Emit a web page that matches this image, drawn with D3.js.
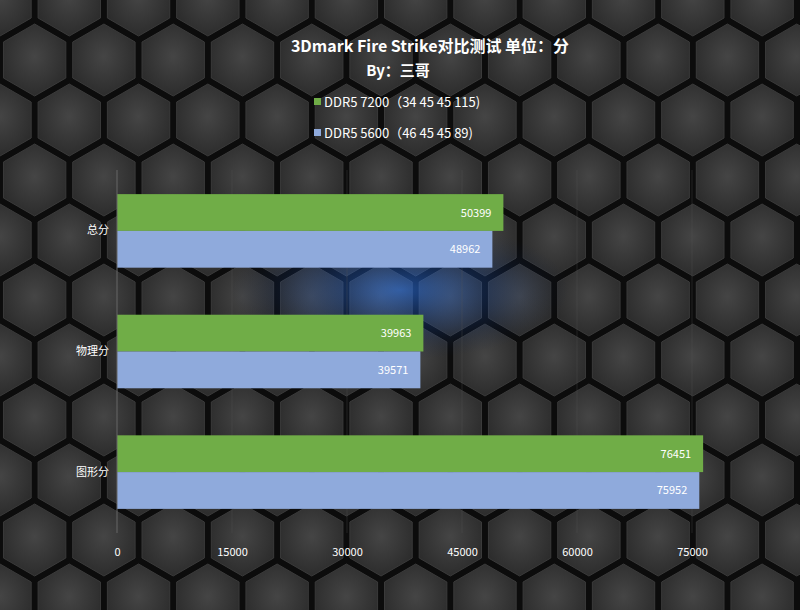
<!DOCTYPE html><html><head><meta charset="utf-8"><script src="https://cdn.jsdelivr.net/npm/d3@7"></script>
<style>body{margin:0;background:#222}svg{display:block}text{font-family:"Noto Sans CJK SC","Noto Sans",sans-serif}</style></head><body>
<svg id="c" width="800" height="610"></svg>
<script>
const categories=["总分","物理分","图形分"];
const seriesNames=["DDR5 7200（34 45 45 115)","DDR5 5600（46 45 45 89)"];
const ddr7200=[50399,39963,76451];
const ddr5600=[48962,39571,75952];
const xTicks=[0,15000,30000,45000,60000,75000];
const colors=["#70ad47","#8faadc"];
const svg=d3.select("#c");
const defs=svg.append("defs");
const rg=defs.append("radialGradient").attr("id","bg").attr("cx","50%").attr("cy","45%").attr("r","70%");
rg.append("stop").attr("offset","0%").attr("stop-color","#454545");
rg.append("stop").attr("offset","100%").attr("stop-color","#262626");
const gl=defs.append("radialGradient").attr("id","glow");
gl.append("stop").attr("offset","0%").attr("stop-color","#2f7fff").attr("stop-opacity",0.9);
gl.append("stop").attr("offset","60%").attr("stop-color","#1a4fb0").attr("stop-opacity",0.35);
gl.append("stop").attr("offset","100%").attr("stop-color","#0a2050").attr("stop-opacity",0);
svg.append("rect").attr("width",800).attr("height",610).attr("fill","#0c0c0c");
const R=40,hw=R*Math.sqrt(3)/2;
const hexes=[];
for(let r=-1;r<12;r++)for(let c=-1;c<12;c++){hexes.push([c*2*hw+(r%2?hw:0),r*1.5*R]);}
const hp=d3.range(6).map(i=>{const a=Math.PI/3*i+Math.PI/6;return [R*Math.cos(a)*0.9,R*Math.sin(a)*0.9];});
svg.append("g").selectAll("path").data(hexes).join("path")
 .attr("d",d=>"M"+hp.map(p=>[p[0]+d[0],p[1]+d[1]]).join("L")+"Z")
 .attr("fill","url(#bg)").attr("stroke","#3a3a3a").attr("stroke-width",1);
svg.append("ellipse").attr("cx",400).attr("cy",290).attr("rx",170).attr("ry",70).attr("fill","url(#glow)").attr("opacity",0.6);
svg.append("text").attr("x",430).attr("y",52).attr("text-anchor","middle").attr("fill","#fff").attr("font-size",16).attr("font-weight","bold").text("3Dmark Fire Strike对比测试 单位：分");
svg.append("text").attr("x",398).attr("y",76).attr("text-anchor","middle").attr("fill","#fff").attr("font-size",15).attr("font-weight","bold").text("By：三哥");
seriesNames.forEach((s,i)=>{const y=103+i*31;
 svg.append("rect").attr("x",314).attr("y",y-5).attr("width",7).attr("height",7).attr("fill",colors[i]);
 svg.append("text").attr("x",324).attr("y",y+4).attr("fill","#fff").attr("font-size",13).text(s);});
const x=d3.scaleLinear().domain([0,75000]).range([117,692]);
const y=d3.scaleBand().domain(categories).range([170,533]).paddingInner(0.39).paddingOuter(0.2);
const y2=d3.scaleBand().domain([0,1]).range([0,y.bandwidth()]);
svg.append("g").selectAll("line").data(xTicks.slice(1)).join("line")
 .attr("x1",d=>x(d)).attr("x2",d=>x(d)).attr("y1",170).attr("y2",533).attr("stroke","#555").attr("stroke-opacity",0.3);
const series=[ddr7200,ddr5600];
series.forEach((vals,si)=>{
 const g=svg.append("g");
 g.selectAll("rect").data(vals).join("rect").attr("x",x(0)).attr("y",(d,i)=>y(categories[i])+y2(si)).attr("width",d=>x(d)-x(0)).attr("height",y2.bandwidth()).attr("fill",colors[si]);
 g.selectAll("text").data(vals).join("text").attr("x",d=>x(d)-12).attr("y",(d,i)=>y(categories[i])+y2(si)+y2.bandwidth()/2+4).attr("text-anchor","end").attr("fill","#fff").attr("font-size",11).text(d=>d);
});
const ax=svg.append("g").attr("transform","translate(0,540)").call(d3.axisBottom(x).tickValues(xTicks).tickFormat(d3.format("d")).tickSize(0).tickPadding(8));
ax.select(".domain").remove();
ax.selectAll("text").attr("fill","#fff").attr("font-size",11);
const ay=svg.append("g").attr("transform","translate(117,0)").call(d3.axisLeft(y).tickSize(0).tickPadding(8));
ay.select(".domain").attr("stroke","#666").attr("d","M0,170V533");
ay.selectAll("text").attr("fill","#fff").attr("font-size",11);
</script></body></html>
